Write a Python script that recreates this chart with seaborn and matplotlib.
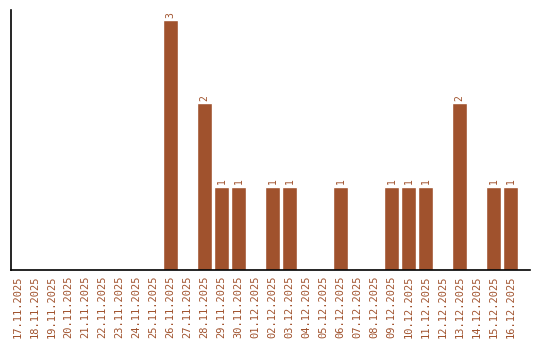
import matplotlib
matplotlib.use("Agg")
import matplotlib.pyplot as plt
import seaborn as sns
import pandas as pd

dates = ["17.11.2025", "18.11.2025", "19.11.2025", "20.11.2025", "21.11.2025",
         "22.11.2025", "23.11.2025", "24.11.2025", "25.11.2025", "26.11.2025",
         "27.11.2025", "28.11.2025", "29.11.2025", "30.11.2025", "01.12.2025",
         "02.12.2025", "03.12.2025", "04.12.2025", "05.12.2025", "06.12.2025",
         "07.12.2025", "08.12.2025", "09.12.2025", "10.12.2025", "11.12.2025",
         "12.12.2025", "13.12.2025", "14.12.2025", "15.12.2025", "16.12.2025"]
counts = [0, 0, 0, 0, 0, 0, 0, 0, 0, 3,
          0, 2, 1, 1, 0, 1, 1, 0, 0, 1,
          0, 0, 1, 1, 1, 0, 2, 0, 1, 1]

df = pd.DataFrame({"date": dates, "count": counts})

sns.set_style("white")
plt.rcParams['font.family'] = ['DejaVu Sans Mono', 'DejaVu Sans']

fig = plt.figure(figsize=(5.4, 3.4), dpi=100)
ax = fig.add_axes([11/540, 70/340, 519/540, 260/340])
color = "#A0522D"
sns.barplot(data=df, x="date", y="count", color=color, saturation=1, width=0.83, ax=ax)

for i, v in enumerate(counts):
    if v > 0:
        ax.text(i, v + 0.03, str(v), rotation=90, ha="center", va="bottom",
                fontsize=7, color=color)

ax.set_xlim(-0.38, 30.15)
ax.set_ylim(0, 3.12)
ax.set_xlabel("")
ax.set_ylabel("")
ax.set_yticks([])
ax.tick_params(axis="x", length=0, pad=4, labelsize=7.5, labelcolor=color)
for lbl in ax.get_xticklabels():
    lbl.set_rotation(90)
for s in ["top", "right"]:
    ax.spines[s].set_visible(False)
for s in ["left", "bottom"]:
    ax.spines[s].set_color("black")
    ax.spines[s].set_linewidth(1.2)

fig.savefig("out.png", dpi=100)
